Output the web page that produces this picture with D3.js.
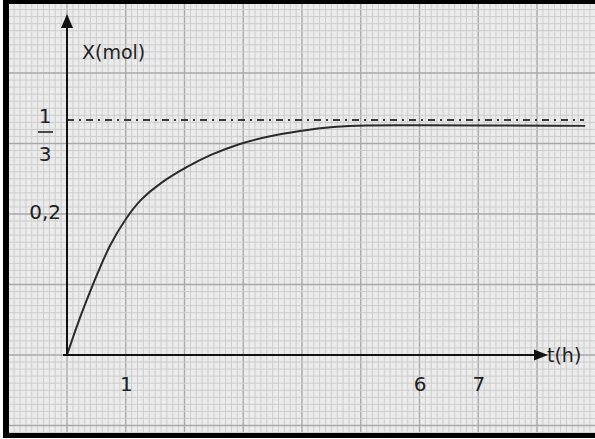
<!DOCTYPE html>
<html>
<head>
<meta charset="utf-8">
<script src="https://cdnjs.cloudflare.com/ajax/libs/d3/7.8.5/d3.min.js"></script>
<style>
  body { margin: 0; background: #fff; }
  text { font-family: "DejaVu Sans", sans-serif; fill: #222; }
</style>
</head>
<body>
<div id="chart"></div>
<script>
// Data
var tData = [0, 0.22, 0.45, 0.73, 1.02, 1.24, 1.58, 2.04, 2.43, 2.94, 3.40, 3.97, 4.53, 5.10, 5.67, 8.82];
var xData = [0, 0.054, 0.102, 0.158, 0.196, 0.220, 0.244, 0.267, 0.284, 0.300, 0.310, 0.318, 0.324, 0.326, 0.326, 0.325];
var xTicks = [1, 6, 7];
var yTicks = [0.2];
var asymptote = 1 / 3;
var xTitle = "t(h)";
var yTitle = "X(mol)";

var width = 595, height = 439;

var svg = d3.select("#chart").append("svg")
    .attr("width", width)
    .attr("height", height);

// scales: origin at (67,355)
var x = d3.scaleLinear().domain([0, 1]).range([67, 125.75]);
var y = d3.scaleLinear().domain([0, 0.1]).range([355, 284.5]);

// graph paper
var paper = svg.append("g");
paper.append("rect")
    .attr("x", 9).attr("y", 4)
    .attr("width", width - 9).attr("height", 429)
    .attr("fill", "#ebebeb");

var tMin = Math.floor(x.invert(9) * 10) / 10, tMax = x.invert(width);
var vMin = Math.floor(y.invert(433) * 100) / 100, vMax = y.invert(4);

d3.range(tMin, tMax, 0.1).forEach(function (t) {
    var major = Math.abs(t - Math.round(t)) < 0.01;
    paper.append("line")
        .attr("x1", x(t)).attr("x2", x(t))
        .attr("y1", 4).attr("y2", 433)
        .attr("stroke", major ? "#a9a9a9" : "#cdcdcd")
        .attr("stroke-width", major ? 1.4 : 1);
});
d3.range(vMin, vMax, 0.01).forEach(function (v) {
    var major = Math.abs(v * 10 - Math.round(v * 10)) < 0.01;
    paper.append("line")
        .attr("x1", 9).attr("x2", width)
        .attr("y1", y(v)).attr("y2", y(v))
        .attr("stroke", major ? "#a9a9a9" : "#cdcdcd")
        .attr("stroke-width", major ? 1.4 : 1);
});

// frame
svg.append("rect").attr("x", 3).attr("y", 0).attr("width", 6).attr("height", 438).attr("fill", "#000");
svg.append("rect").attr("x", 3).attr("y", 0).attr("width", width - 3).attr("height", 4).attr("fill", "#000");
svg.append("rect").attr("x", 3).attr("y", 433).attr("width", width - 3).attr("height", 5).attr("fill", "#000");

// asymptote (dash-dot)
svg.append("line")
    .attr("x1", x(0)).attr("x2", 584)
    .attr("y1", y(asymptote)).attr("y2", y(asymptote))
    .attr("stroke", "#3a3a3a")
    .attr("stroke-width", 2)
    .attr("stroke-dasharray", "7,5,2,5");

// curve
var data = tData.map(function (t, i) { return { t: t, v: xData[i] }; });
var line = d3.line()
    .x(function (d) { return x(d.t); })
    .y(function (d) { return y(d.v); })
    .curve(d3.curveBasis);

svg.append("path")
    .datum(data)
    .attr("fill", "none")
    .attr("stroke", "#2b2b2b")
    .attr("stroke-width", 2)
    .attr("d", line);

// axes lines with arrows
svg.append("line")
    .attr("x1", x(0)).attr("x2", x(0))
    .attr("y1", y(0)).attr("y2", 26)
    .attr("stroke", "#111").attr("stroke-width", 2);
svg.append("path")
    .attr("d", "M" + x(0) + ",14 L" + (x(0) - 6) + ",28 L" + (x(0) + 6) + ",28 Z")
    .attr("fill", "#111");

svg.append("line")
    .attr("x1", x(0) - 4).attr("x2", 536)
    .attr("y1", y(0)).attr("y2", y(0))
    .attr("stroke", "#111").attr("stroke-width", 2);
svg.append("path")
    .attr("d", "M548," + y(0) + " L534," + (y(0) - 5.5) + " L534," + (y(0) + 5.5) + " Z")
    .attr("fill", "#111");

// tick labels
var xAxis = svg.append("g")
    .attr("transform", "translate(0," + y(0) + ")")
    .call(d3.axisBottom(x).tickValues(xTicks).tickSize(0).tickPadding(22).tickFormat(d3.format("d")));
xAxis.select(".domain").remove();
xAxis.selectAll("text")
    .style("font-size", "20px")
    .attr("fill", "#222")
    .attr("font-family", "DejaVu Sans, sans-serif");

var fr = d3.formatLocale({ decimal: ",", thousands: ".", grouping: [3], currency: ["", ""] });
var yAxis = svg.append("g")
    .attr("transform", "translate(" + x(0) + ",0)")
    .call(d3.axisLeft(y).tickValues(yTicks).tickSize(0).tickPadding(6).tickFormat(fr.format(".1f")));
yAxis.select(".domain").remove();
yAxis.selectAll("text")
    .style("font-size", "20px")
    .attr("dy", "0.2em")
    .attr("fill", "#222")
    .attr("font-family", "DejaVu Sans, sans-serif");

// fraction 1/3
var fy = y(asymptote);
svg.append("text").attr("x", 45).attr("y", fy + 3).attr("text-anchor", "middle")
    .style("font-size", "20px").text("1");
svg.append("line").attr("x1", 38).attr("x2", 53).attr("y1", fy + 12).attr("y2", fy + 12)
    .attr("stroke", "#222").attr("stroke-width", 1.6);
svg.append("text").attr("x", 45).attr("y", fy + 41).attr("text-anchor", "middle")
    .style("font-size", "20px").text("3");

// axis titles
svg.append("text").attr("x", 82).attr("y", 59).style("font-size", "19px").text(yTitle);
svg.append("text").attr("x", 547).attr("y", 362).style("font-size", "19px").text(xTitle);
</script>
</body>
</html>
